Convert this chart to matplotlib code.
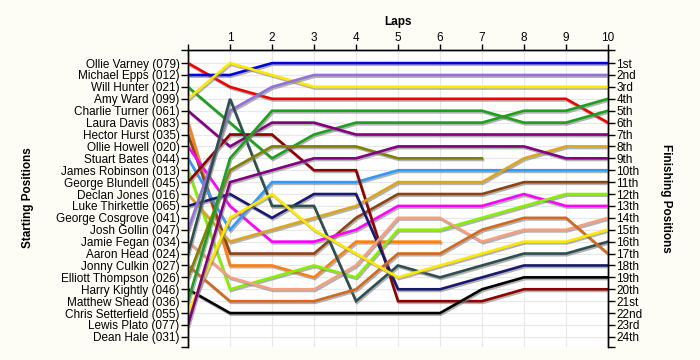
import numpy as np
import matplotlib.pyplot as plt
import matplotlib.patheffects as pe

nan = np.nan

starters = ["Ollie Varney (079)", "Michael Epps (012)", "Will Hunter (021)", "Amy Ward (099)",
            "Charlie Turner (061)", "Laura Davis (083)", "Hector Hurst (035)", "Ollie Howell (020)",
            "Stuart Bates (044)", "James Robinson (013)", "George Blundell (045)", "Declan Jones (016)",
            "Luke Thirkettle (065)", "George Cosgrove (041)", "Josh Gollin (047)", "Jamie Fegan (034)",
            "Aaron Head (024)", "Jonny Culkin (027)", "Elliott Thompson (026)", "Harry Kightly (046)",
            "Matthew Shead (036)", "Chris Setterfield (055)", "Lewis Plato (077)", "Dean Hale (031)"]
finish_labels = ["1st", "2nd", "3rd"] + [f"{i}th" for i in range(4, 21)] + ["21st", "22nd", "23rd", "24th"]
laps = list(range(0, 11))

# positions per lap (lap 0 = grid), nan = retired
ollie_varney = [1, 3, 4, 4, 4, 4, 4, 4, 4, 4, 6]
michael_epps = [2, 2, 1, 1, 1, 1, 1, 1, 1, 1, 1]
will_hunter = [3, 6, 9, 7, 6, 6, 6, 6, 5, 5, 4]
amy_ward = [4, 1, 2, 3, 3, 3, 3, 3, 3, 3, 3]
charlie_turner = [5, 8, 6, 6, 7, 7, 7, 7, 7, 7, 7]
laura_davis = [6, 18, 18, 19, 16, 16, 16, nan, nan, nan, nan]
hector_hurst = [7, 17, 17, 17, 14, 12, 12, 12, 11, 11, 11]
ollie_howell = [8, 13, 16, 16, 15, 13, 13, 13, 12, 13, 13]
stuart_bates = [9, 15, 11, 11, 11, 10, 10, 10, 10, 10, 10]
james_robinson = [10, 20, 19, 18, 19, 15, 15, 14, 13, 12, 12]
george_blundell = [11, 7, 7, 10, 10, 21, 21, 21, 20, 20, 20]
declan_jones = [12, 16, 15, 14, 13, 11, 11, 11, 9, 8, 8]
luke_thirkettle = [13, 12, 14, 12, 12, 20, 20, 19, 18, 18, 18]
josh_gollin = [15, 5, 3, 2, 2, 2, 2, 2, 2, 2, 2]
jamie_fegan = [16, 19, 20, 20, 18, 14, 14, 16, 15, 15, 14]
aaron_head = [17, 4, 13, 13, 21, 18, 19, 18, 17, 17, 16]
jonny_culkin = [18, 21, 21, 21, 20, 17, 17, 15, 14, 14, 17]
elliott_thompson = [19, 10, 8, 8, 8, 9, 9, 9, nan, nan, nan]
harry_kightly = [20, 22, 22, 22, 22, 22, 22, 20, 19, 19, 19]
matthew_shead = [21, 9, 5, 5, 5, 5, 5, 5, 6, 6, 5]
chris_setterfield = [22, 14, 12, 15, 17, 19, 18, 17, 16, 16, 15]
lewis_plato = [23, 11, 10, 9, 9, 8, 8, 8, 8, 9, 9]

series = [
    (ollie_varney, "#ee0000"), (michael_epps, "#0000dd"), (will_hunter, "#1f9f1f"),
    (amy_ward, "#ffe800"), (charlie_turner, "#800080"), (laura_davis, "#ff8010"),
    (hector_hurst, "#8b4513"), (ollie_howell, "#ff00ff"), (stuart_bates, "#3399ff"),
    (james_robinson, "#88ee00"), (george_blundell, "#8b0000"), (declan_jones, "#daa520"),
    (luke_thirkettle, "#191970"), (josh_gollin, "#9370db"), (jamie_fegan, "#f4a080"),
    (aaron_head, "#2f4f4f"), (jonny_culkin, "#d2691e"), (elliott_thompson, "#808000"),
    (harry_kightly, "#000000"), (matthew_shead, "#1f9f1f"), (chris_setterfield, "#ffe800"),
    (lewis_plato, "#800080"),
]

plt.rcParams["font.family"] = ["Liberation Sans", "DejaVu Sans"]
FS = 8.5

fig = plt.figure(figsize=(7, 3.6), dpi=100, facecolor="#fdfdf5")
ax = fig.add_axes([188 / 700, 1 - 347 / 360, 420 / 700, 297 / 360])
ax.set_facecolor("white")

shadow = [pe.SimpleLineShadow(offset=(0.8, -1.2), shadow_color="#808080", alpha=0.6), pe.Normal()]
for pos, color in series:
    ax.plot(laps, pos, color=color, linewidth=1.9, solid_joinstyle="miter",
            path_effects=shadow, zorder=3)

top, bottom = -0.1, 24.85
ax.set_xlim(0, 10)
ax.set_ylim(bottom, top)

ax.xaxis.tick_top()
ax.set_xticks(laps)
ax.set_xticklabels([""] + [str(i) for i in laps[1:]], fontsize=FS)
ax.set_xlabel("Laps", fontsize=FS, fontweight="bold", labelpad=5)
ax.xaxis.set_label_position("top")

ypos = list(range(1, 25))
ax.set_yticks(ypos)
ax.set_yticklabels(starters, fontsize=FS)
ax.set_yticks([top, bottom], minor=True)
ax.tick_params(axis="y", which="both", direction="out", length=5, width=1, pad=1)
ax.tick_params(axis="x", direction="out", length=4, width=1, pad=0)

ax2 = ax.twinx()
ax2.set_ylim(bottom, top)
ax2.set_yticks(ypos)
ax2.set_yticklabels(finish_labels, fontsize=FS)
ax2.set_yticks([top, bottom], minor=True)
ax2.tick_params(axis="y", which="both", direction="out", length=5, width=1, pad=1)

for a in (ax, ax2):
    a.spines["bottom"].set_visible(False)
    for s in ("left", "right", "top"):
        a.spines[s].set_linewidth(1)

ax.grid(True, color="#e8e8e8", linewidth=0.8, zorder=0)
ax.set_axisbelow(True)

fig.text(28 / 700, 1 - 198 / 360, "Starting Positions", rotation=90, fontsize=FS,
         fontweight="bold", ha="center", va="center")
fig.text(666 / 700, 1 - 198 / 360, "Finishing Positions", rotation=-90, fontsize=FS,
         fontweight="bold", ha="center", va="center")

fig.savefig("out.png", dpi=100, facecolor=fig.get_facecolor())
